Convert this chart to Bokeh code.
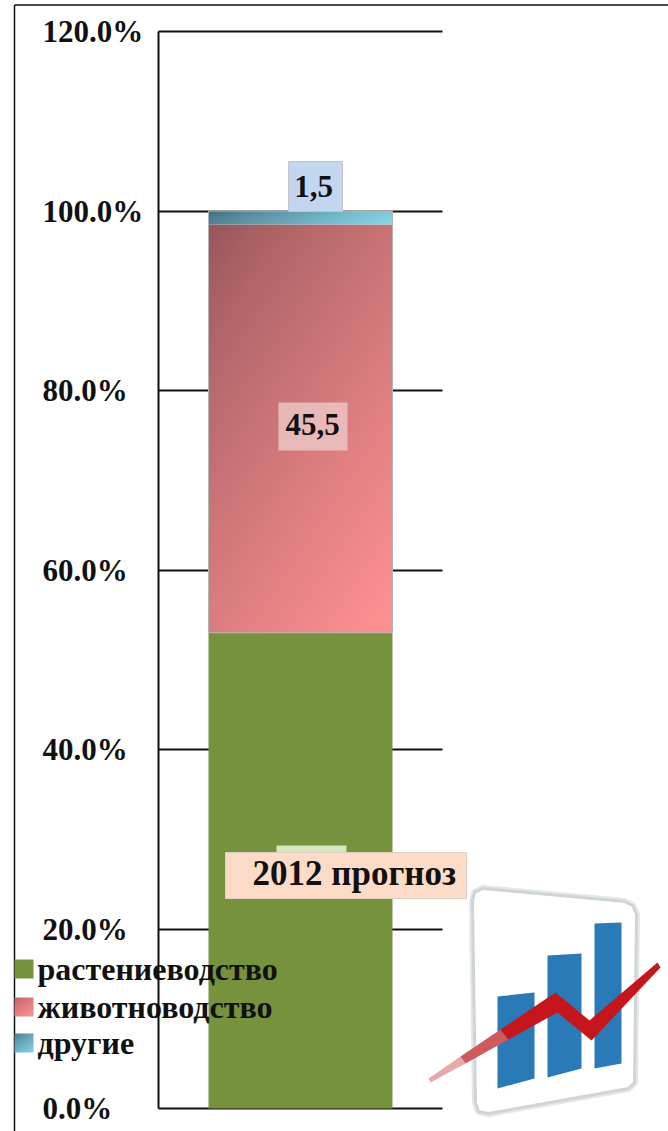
import numpy as np
from bokeh.core.properties import value
from bokeh.embed import file_html
from bokeh.models import FixedTicker, LinearAxis, Range1d
from bokeh.plotting import figure
from bokeh.resources import INLINE

# ---- data ----
series_names = ["растениеводство", "животноводство", "другие"]
series_values = [53.0, 45.5, 1.5]
category_label = "2012 прогноз"
data_labels = ["", "45,5", "1,5"]
tick_values = [0, 20, 40, 60, 80, 100, 120]
tick_labels = ["0.0%", "20.0%", "40.0%", "60.0%", "80.0%", "100.0%", "120.0%"]

# ---- layout (page pixels) ----
PAGE_L, PAGE_R, PAGE_T, PAGE_B = 0, 668, 0, 1131
Y0_PX, Y120_PX = 1108.0, 31.0
PX_PER = (Y0_PX - Y120_PX) / 120.0


def Y(py):
    return (Y0_PX - py) / PX_PER


FONT = value("Liberation Serif")
p = figure(
    width=PAGE_R - PAGE_L, height=PAGE_B - PAGE_T, output_backend="svg", toolbar_location=None,
    x_range=Range1d(PAGE_L, PAGE_R), y_range=Range1d(Y(PAGE_B), Y(PAGE_T)),
    min_border=0, min_border_left=0, min_border_right=0, min_border_top=0, min_border_bottom=0,
    x_axis_location=None, y_axis_location=None,
)
p.outline_line_color = None
p.grid.visible = False
p.background_fill_color = "white"

# axis, with its long ticks used as the gridlines that stop at x=442
ax = LinearAxis(
    fixed_location=158, bounds=(0, 120),
    ticker=FixedTicker(ticks=tick_values),
    major_label_overrides={t: "" for t in tick_values},
    major_tick_in=284, major_tick_out=0, minor_tick_line_color=None,
    major_tick_line_color="#111111", major_tick_line_width=2,
    axis_line_color="#111111", axis_line_width=2, level="underlay",
)
p.add_layout(ax, "left")

# tick labels are left-aligned in the reference
p.text(x=[42] * len(tick_values), y=tick_values, text=tick_labels,
       text_font=FONT, text_font_style="bold", text_font_size="31px",
       text_align="left", text_baseline="middle", text_color="#111111")

# frame lines
p.line([14, 14], [Y(PAGE_B), Y(4.5)], line_color="#111111", line_width=1.5)
p.line([14, PAGE_R], [Y(4.5), Y(4.5)], line_color="#111111", line_width=1.5)


def gradient(c0, c1, w, h, kx=0.4, gamma=0.8):
    """Slanted fill: c0 at top left, c1 at bottom right."""
    xx, yy = np.meshgrid(np.linspace(0, 1, w), np.linspace(1, 0, h))
    t = ((kx * xx + (1 - kx) * yy) ** gamma)[..., None]
    rgb = np.array(c0) * (1 - t) + np.array(c1) * t
    img = np.empty((h, w), dtype=np.uint32)
    view = img.view(dtype=np.uint8).reshape((h, w, 4))
    view[..., :3] = rgb.astype(np.uint8)
    view[..., 3] = 255
    return img


# stacked bar
BAR_L, BAR_R = 208, 392
bottoms = np.cumsum([0] + series_values[:-1])
tops = bottoms + np.array(series_values)
p.vbar(x=[(BAR_L + BAR_R) / 2], width=BAR_R - BAR_L, bottom=bottoms[0], top=tops[0],
       fill_color="#76923c", line_color=None)
stops = {1: ((0x96, 0x56, 0x5a), (0xff, 0x92, 0x92), 0.4),
         2: ((0x45, 0x6c, 0x80), (0x88, 0xd8, 0xe8), 0.85)}
for i, (c0, c1, kx) in stops.items():
    h = max(int((tops[i] - bottoms[i]) * PX_PER), 2)
    p.image_rgba(image=[gradient(c0, c1, BAR_R - BAR_L, h, kx)], x=BAR_L, y=bottoms[i],
                 dw=BAR_R - BAR_L, dh=series_values[i])
p.quad(left=BAR_L, right=BAR_R, bottom=bottoms[1], top=tops[2], fill_color=None,
       line_color="#b5b5b5", line_width=1)


def label_box(x0, x1, py0, py1, fill, alpha=1.0, line="#c4c4c4"):
    p.quad(left=x0, right=x1, top=Y(py0), bottom=Y(py1), fill_color=fill, fill_alpha=alpha,
           line_color=line, line_width=1)


def label_text(x, py, txt, size, align="center"):
    p.text(x=[x], y=[Y(py)], text=[txt], text_font=FONT, text_font_style="bold",
           text_font_size=size, text_align=align, text_baseline="middle", text_color="#111111")


# data labels
label_box(288, 342, 161, 211, "#c2d6f0")
label_text(313, 186, data_labels[2], "31px")
label_box(278, 347, 402, 450, "#ecc4c4", 0.85, None)
label_text(312, 424, data_labels[1], "31px")
label_box(276, 346, 845, 853, "#d6e6be", 1.0, None)
label_box(225, 466, 852, 898, "#fcdcc6", 1.0, "#e0d0c4")
label_text(252, 873, category_label, "35px", "left")

# legend
swatch_tops = [959, 997, 1033]
swatch_h = 19
swatch_stops = [((0x76, 0x92, 0x3c), (0x76, 0x92, 0x3c)),
                ((0xc2, 0x62, 0x66), (0xf8, 0x92, 0x92)),
                ((0x45, 0x7c, 0x90), (0x88, 0xd0, 0xe0))]
for name, py, (c0, c1) in zip(series_names, swatch_tops, swatch_stops):
    p.image_rgba(image=[gradient(c0, c1, 19, swatch_h)], x=14, y=Y(py + swatch_h), dw=19,
                 dh=swatch_h / PX_PER)
    label_text(37, py + 9, name, "32px", "left")


# logo (page pixels)
def poly(xs, pys, **kw):
    p.patch(xs, [Y(v) for v in pys], **kw)


frame_x = [482, 624, 632, 636, 634, 628, 488, 478, 475, 472, 474]
frame_y = [888, 901, 905, 914, 1082, 1088, 1113, 1111, 1102, 900, 892]
poly(frame_x, frame_y, fill_color="#ffffff", line_color="#e4e7e9", line_width=7)
poly(frame_x, frame_y, fill_color="#ffffff", line_color="#cfd4d7", line_width=3)
for bx0, bx1, t0, t1, b1, b0 in [(497, 534, 996, 992, 1078, 1088),
                                 (547, 581, 955, 953, 1068, 1077),
                                 (594, 621, 923, 922, 1063, 1068)]:
    poly([bx0, bx1, bx1, bx0], [t0, t1, b1, b0], fill_color="#2a7ab8", line_color=None)
poly([428, 460, 465, 430], [1078, 1056, 1063, 1082], fill_color="#e3aaac", line_color=None)
poly([460, 500, 508, 465], [1056, 1029, 1039, 1063], fill_color="#cf5a5e", line_color=None)
poly([500, 555, 589, 657, 660, 591, 557, 508], [1029, 992, 1020, 962, 967, 1040, 1012, 1039],
     fill_color="#c4161c", line_color=None)

open("out.html", "w").write(file_html(p, INLINE))
